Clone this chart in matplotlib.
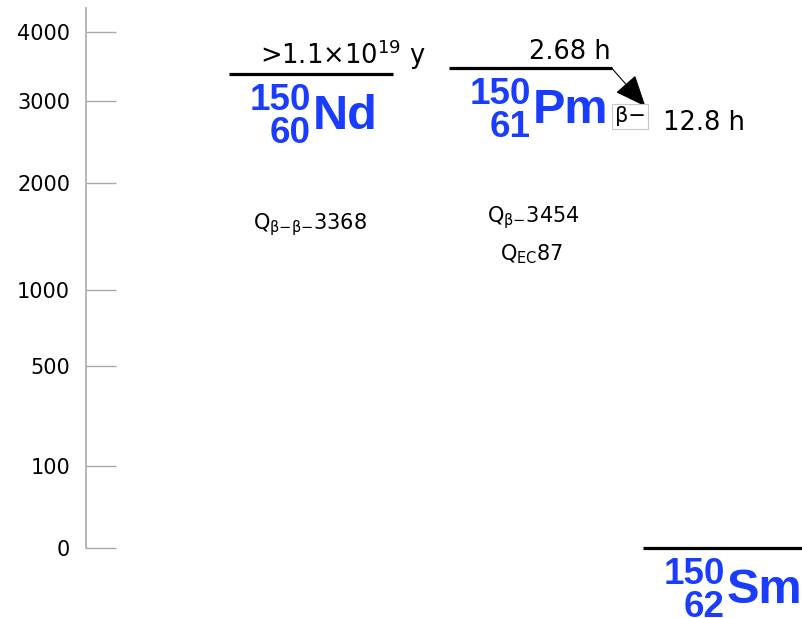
import numpy as np
import matplotlib.pyplot as plt

# level scheme for the A=150 double-beta triplet
symbols = ['Nd', 'Pm', 'Sm']
mass_numbers = [150, 150, 150]
atomic_numbers = [60, 61, 62]
levels_kev = [3368, 3454, 0]
half_lives = [r'>1.1×10$^{\mathregular{19}}$ y', '2.68 h', '']

q_double_beta = 3368
q_beta = 3454
q_ec = 87
daughter_half_life = '12.8 h'

tick_values = [0, 100, 500, 1000, 2000, 3000, 4000]

# horizontal layout (pixel-like x units)
col_left = [229, 449, 643]
col_right = [393, 612, 812]
blue = '#1a3cff'

fig = plt.figure(figsize=(8.03, 6.18), dpi=100)
ax = fig.add_axes([0, 70 / 618, 1, 548 / 618])
ax.set_yscale('function', functions=(np.sqrt, np.square))
ax.set_xlim(0, 803)
ax.set_ylim(0, 4510)

# energy axis
for s in ['top', 'right', 'bottom']:
    ax.spines[s].set_visible(False)
ax.spines['left'].set_position(('data', 86))
ax.spines['left'].set_bounds(0, 4380)
ax.spines['left'].set_color('#aaaaaa')
ax.spines['left'].set_linewidth(1.2)
ax.set_xticks([])
ax.set_yticks(tick_values)
ax.set_yticklabels([str(v) for v in tick_values])
ax.tick_params(axis='y', direction='in', length=21.6, width=1, color='#aaaaaa',
               pad=11.5, labelsize=15, labelcolor='black')
ax.patch.set_alpha(0)

for i, sym in enumerate(symbols):
    E = levels_kev[i]
    ax.plot([col_left[i], col_right[i]], [E, E], color='black', lw=2.3,
            solid_capstyle='butt', clip_on=False)
    xr = col_left[i] + 82
    ax.annotate(str(mass_numbers[i]), xy=(xr, E), xytext=(0, -36),
                textcoords='offset pixels', ha='right', va='baseline',
                fontsize=26.5, fontweight='bold', family='Liberation Sans',
                color=blue, annotation_clip=False)
    ax.annotate(str(atomic_numbers[i]), xy=(xr, E), xytext=(0, -69),
                textcoords='offset pixels', ha='right', va='baseline',
                fontsize=26.5, fontweight='bold', family='Liberation Sans',
                color=blue, annotation_clip=False)
    ax.annotate(sym, xy=(xr, E), xytext=(2, -55),
                textcoords='offset pixels', ha='left', va='baseline',
                fontsize=35, fontweight='bold', family='Liberation Sans',
                color=blue, annotation_clip=False)

# half-lives above the levels
ax.annotate(half_lives[0], xy=(col_left[0], levels_kev[0]), xytext=(31, 10),
            textcoords='offset pixels', ha='left', va='baseline', fontsize=18.5)
ax.annotate(half_lives[1], xy=(col_right[1], levels_kev[1]), xytext=(-1, 9),
            textcoords='offset pixels', ha='right', va='baseline', fontsize=18.5)

# Q values
nd_mid = (col_left[0] + col_right[0]) / 2
pm_mid = (col_left[1] + col_right[1]) / 2
ax.annotate(r'Q$_{\mathregular{β{−}β{−}}}$' + str(q_double_beta), xy=(nd_mid, levels_kev[0]),
            xytext=(-1, -150), textcoords='offset pixels', ha='center', va='center',
            fontsize=15)
ax.annotate(r'Q$_{\mathregular{β{−}}}$' + str(q_beta), xy=(pm_mid, levels_kev[1]),
            xytext=(3, -149), textcoords='offset pixels', ha='center', va='center',
            fontsize=15)
ax.annotate(r'Q$_{\mathregular{EC}}$' + str(q_ec), xy=(pm_mid, levels_kev[1]),
            xytext=(1, -186), textcoords='offset pixels', ha='center', va='center',
            fontsize=15)

# beta-minus decay arrow from Pm
ax.annotate('β−', xy=(col_right[1], levels_kev[1]), xytext=(18, -48),
            textcoords='offset pixels', ha='center', va='center', fontsize=15,
            bbox=dict(boxstyle='square,pad=0.12', fc='white', ec='#c8c8c8', lw=0.8),
            arrowprops=dict(arrowstyle='<|-,head_length=1.0,head_width=0.42',
                            mutation_scale=20, color='black', lw=0.8,
                            relpos=(1, 1), shrinkA=0, shrinkB=0, patchA=None))
ax.annotate(daughter_half_life, xy=(col_right[1], levels_kev[1]), xytext=(51, -62),
            textcoords='offset pixels', ha='left', va='baseline', fontsize=18.5)

fig.savefig('out.png', dpi=100)
